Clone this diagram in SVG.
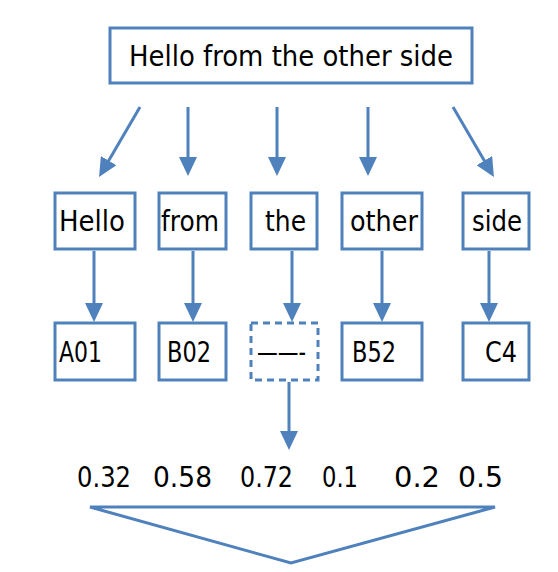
<svg xmlns="http://www.w3.org/2000/svg" width="558" height="572" viewBox="0 0 558 572">
<defs>
<marker id="ah" markerUnits="userSpaceOnUse" markerWidth="19" markerHeight="18" refX="9" refY="9" orient="auto" viewBox="0 0 19 18">
<path d="M0,0 L19,9 L0,18 z" fill="#4F81BD"/>
</marker>
<style>
.box{fill:#fff;stroke:#4F81BD;stroke-width:3}
.dash{fill:#fff;stroke:#4F81BD;stroke-width:3;stroke-dasharray:7 5}
.t{font-family:"DejaVu Sans",sans-serif;font-size:28px;fill:#000}
.c{stroke:#4F81BD;stroke-width:3;fill:none}
</style>
</defs>
<rect width="558" height="572" fill="#fff"/>
<g id="sentence"><rect class="box" x="110" y="28" width="362" height="55"/><text class="t" x="291" y="66" text-anchor="middle" textLength="324" lengthAdjust="spacingAndGlyphs">Hello from the other side</text></g>
<g id="w-hello"><rect class="box" x="55" y="193" width="80" height="56"/><text class="t" x="59" y="231" textLength="66" lengthAdjust="spacingAndGlyphs">Hello</text></g>
<g id="w-from"><rect class="box" x="159" y="193" width="67" height="56"/><text class="t" x="161" y="231" textLength="58" lengthAdjust="spacingAndGlyphs">from</text></g>
<g id="w-the"><rect class="box" x="251" y="193" width="66" height="56"/><text class="t" x="265" y="231" textLength="41" lengthAdjust="spacingAndGlyphs">the</text></g>
<g id="w-other"><rect class="box" x="342" y="193" width="80" height="56"/><text class="t" x="350" y="231" textLength="68" lengthAdjust="spacingAndGlyphs">other</text></g>
<g id="w-side"><rect class="box" x="463" y="193" width="66" height="56"/><text class="t" x="472" y="231" textLength="50" lengthAdjust="spacingAndGlyphs">side</text></g>
<g id="c-a01"><rect class="box" x="55" y="323" width="80" height="57"/><text class="t" x="59" y="362" textLength="43" lengthAdjust="spacingAndGlyphs">A01</text></g>
<g id="c-b02"><rect class="box" x="159" y="323" width="67" height="57"/><text class="t" x="167" y="362" textLength="44" lengthAdjust="spacingAndGlyphs">B02</text></g>
<g id="c-unk"><rect class="dash" x="251" y="323" width="67" height="57"/><text class="t" x="257" y="362" textLength="49" lengthAdjust="spacingAndGlyphs">——-</text></g>
<g id="c-b52"><rect class="box" x="342" y="323" width="80" height="57"/><text class="t" x="352" y="362" textLength="44" lengthAdjust="spacingAndGlyphs">B52</text></g>
<g id="c-c4"><rect class="box" x="463" y="323" width="66" height="57"/><text class="t" x="485" y="362" textLength="32" lengthAdjust="spacingAndGlyphs">C4</text></g>
<g id="vector">
<text class="t" x="77" y="487" textLength="54" lengthAdjust="spacingAndGlyphs">0.32</text>
<text class="t" x="153" y="487" textLength="59" lengthAdjust="spacingAndGlyphs">0.58</text>
<text class="t" x="240" y="487" textLength="53" lengthAdjust="spacingAndGlyphs">0.72</text>
<text class="t" x="322" y="487" textLength="36" lengthAdjust="spacingAndGlyphs">0.1</text>
<text class="t" x="394" y="487" textLength="46" lengthAdjust="spacingAndGlyphs">0.2</text>
<text class="t" x="458" y="487" textLength="45" lengthAdjust="spacingAndGlyphs">0.5</text>
</g>
<g id="connectors">
<line class="c" x1="140" y1="107" x2="104.1" y2="168.4" marker-end="url(#ah)"/>
<line class="c" x1="188" y1="107" x2="188" y2="166" marker-end="url(#ah)"/>
<line class="c" x1="277" y1="107" x2="277" y2="166" marker-end="url(#ah)"/>
<line class="c" x1="368" y1="107" x2="368" y2="166" marker-end="url(#ah)"/>
<line class="c" x1="453" y1="107" x2="488.9" y2="168.4" marker-end="url(#ah)"/>
<line class="c" x1="94" y1="251" x2="94" y2="312" marker-end="url(#ah)"/>
<line class="c" x1="193" y1="251" x2="193" y2="312" marker-end="url(#ah)"/>
<line class="c" x1="292" y1="251" x2="292" y2="312" marker-end="url(#ah)"/>
<line class="c" x1="382" y1="251" x2="382" y2="312" marker-end="url(#ah)"/>
<line class="c" x1="489" y1="251" x2="489" y2="312" marker-end="url(#ah)"/>
<line class="c" x1="289" y1="382" x2="289" y2="440" marker-end="url(#ah)"/>
<path class="c" d="M90,507 L495,507 L291,563 Z"/>
</g>
</svg>
